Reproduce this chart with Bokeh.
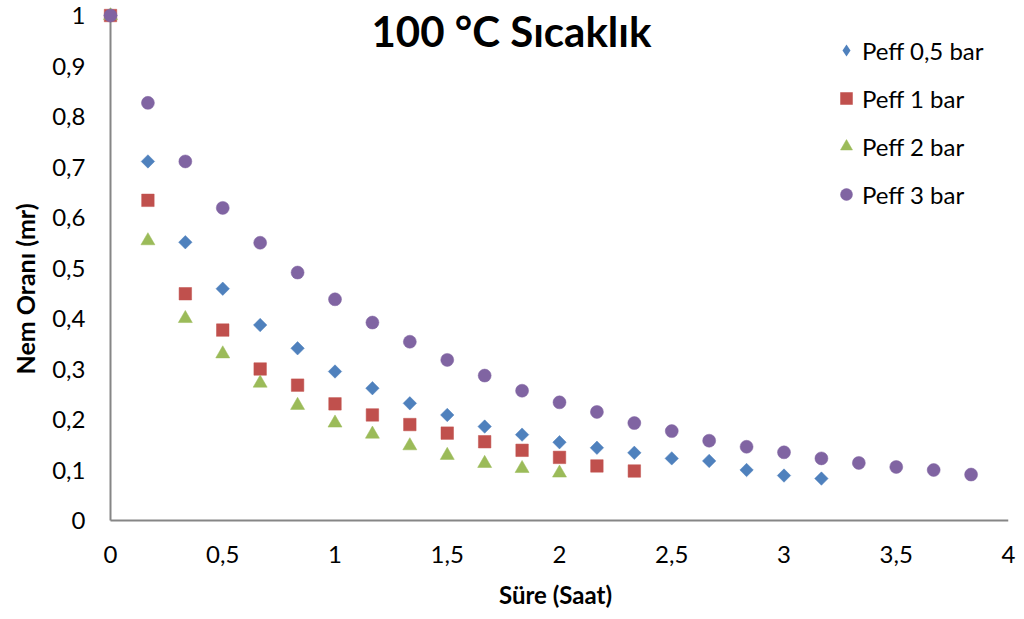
import math
from bokeh.plotting import figure
from bokeh.models import (ColumnDataSource, FixedTicker, Label, Legend, LegendItem,
                          Range1d, Title)
from bokeh.embed import file_html
from bokeh.resources import INLINE

# Drying time in hours (10-minute readings) and moisture ratio per effective pressure
time_h = [i / 6 for i in range(24)]

mr_05bar = [1.0, 0.711, 0.551, 0.459, 0.387, 0.341, 0.295, 0.262, 0.232, 0.209,
            0.186, 0.170, 0.155, 0.144, 0.134, 0.123, 0.118, 0.100, 0.089, 0.083]
mr_1bar = [1.0, 0.634, 0.449, 0.377, 0.300, 0.268, 0.231, 0.209, 0.190, 0.173,
           0.156, 0.139, 0.125, 0.108, 0.098]
mr_2bar = [1.0, 0.554, 0.400, 0.330, 0.272, 0.228, 0.193, 0.171, 0.148, 0.129,
           0.113, 0.103, 0.094]
mr_3bar = [1.0, 0.827, 0.711, 0.619, 0.550, 0.491, 0.438, 0.392, 0.354, 0.318,
           0.287, 0.257, 0.234, 0.215, 0.193, 0.177, 0.158, 0.146, 0.135, 0.123,
           0.114, 0.106, 0.100, 0.091]

series_names = ["Peff 0,5 bar", "Peff 1 bar", "Peff 2 bar", "Peff 3 bar"]
x_ticks = [0, 0.5, 1, 1.5, 2, 2.5, 3, 3.5, 4]
y_ticks = [0, 0.1, 0.2, 0.3, 0.4, 0.5, 0.6, 0.7, 0.8, 0.9, 1.0]

FONT = "Lato"
AXIS_GRAY = "#868686"
BLUE, RED, GREEN, PURPLE = "#4F81BD", "#C0504D", "#9BBB59", "#8064A2"

# A little slack around the origin so markers at x=0 / y=1 are not clipped
PX_X, PX_Y = 224.5, 505.0
PAD_X = 8 / PX_X
PAD_TOP = 8 / PX_Y
PAD_BOTTOM = 4 / PX_Y

p = figure(width=1024, height=619, output_backend="svg", toolbar_location=None,
           x_range=Range1d(-PAD_X, 4), y_range=Range1d(-PAD_BOTTOM, 1 + PAD_TOP),
           min_border_left=102, min_border_right=16,
           min_border_top=7, min_border_bottom=95)
p.outline_line_color = None
p.xgrid.visible = False
p.ygrid.visible = False
p.background_fill_color = "white"
p.border_fill_color = "white"


def comma(v):
    return ("%g" % v).replace(".", ",")


for ax, ticks, standoff in ((p.xaxis[0], x_ticks, 21), (p.yaxis[0], y_ticks, 17)):
    ax.ticker = FixedTicker(ticks=ticks)
    ax.major_label_overrides = {t: comma(t) for t in ticks}
    ax.major_tick_in = 0
    ax.major_tick_out = 0
    ax.minor_tick_in = 0
    ax.minor_tick_out = 0
    ax.axis_line_color = None
    ax.major_label_text_font = FONT
    ax.major_label_text_font_size = "24px"
    ax.major_label_text_color = "black"
    ax.major_label_standoff = standoff
    ax.axis_label_text_font = FONT
    ax.axis_label_text_font_size = "24px"
    ax.axis_label_text_font_style = "bold"
    ax.axis_label_text_color = "black"

p.xaxis[0].axis_label = "Süre (Saat)"
p.xaxis[0].axis_label_standoff = 14

# Vertical axis title, left of the tick labels and a bit below mid-height
p.add_layout(Title(text="Nem Oranı (mr)", align="left", offset=150, standoff=15,
                   vertical_align="top",
                   text_font=FONT, text_font_size="25px", text_font_style="bold",
                   text_color="black"), "left")

# Axis lines through the origin
p.segment(x0=[0, 0], y0=[0, 0], x1=[0, 4], y1=[1, 0],
          line_color=AXIS_GRAY, line_width=2)

blue_src = ColumnDataSource(dict(x=time_h[:len(mr_05bar)], y=mr_05bar))
red_src = ColumnDataSource(dict(x=time_h[:len(mr_1bar)], y=mr_1bar))
green_src = ColumnDataSource(dict(x=time_h[:len(mr_2bar)], y=mr_2bar))
purple_src = ColumnDataSource(dict(x=time_h[:len(mr_3bar)], y=mr_3bar))

p.scatter("x", "y", source=blue_src, marker="square", angle=math.pi / 4,
          size=9.5, fill_color=BLUE, line_color=BLUE, line_width=0.5)
r_red = p.scatter("x", "y", source=red_src, marker="square", size=12.5,
                  fill_color=RED, line_color=RED, line_width=0.5)
r_green = p.scatter("x", "y", source=green_src, marker="triangle", size=14,
                    fill_color=GREEN, line_color=GREEN, line_width=0.5)
r_purple = p.scatter("x", "y", source=purple_src, marker="circle", size=13,
                     fill_color=PURPLE, line_color=PURPLE, line_width=0.5)

# Legend key for the rotated-square series: zero-size points, so only the key shows
r_blue_key = p.scatter("x", "y", source=blue_src, marker="diamond", size=0,
                       fill_color=BLUE, line_color=BLUE, line_width=0)

legend = Legend(items=[LegendItem(label=n, renderers=[r]) for n, r in
                       zip(series_names, [r_blue_key, r_red, r_green, r_purple])],
                location=(729, 315), orientation="vertical",
                glyph_width=30, glyph_height=30, label_standoff=1, spacing=18,
                padding=0, margin=0, border_line_color=None,
                background_fill_alpha=0,
                label_text_font=FONT, label_text_font_size="24px",
                label_text_color="black")
p.add_layout(legend)

title = Label(x=1.786, y=0.970, text="100 °C Sıcaklık", text_align="center",
              text_baseline="middle", text_font=FONT, text_font_size="42px",
              text_font_style="bold", text_color="black")
p.add_layout(title)

open("out.html", "w").write(file_html(p, INLINE))
